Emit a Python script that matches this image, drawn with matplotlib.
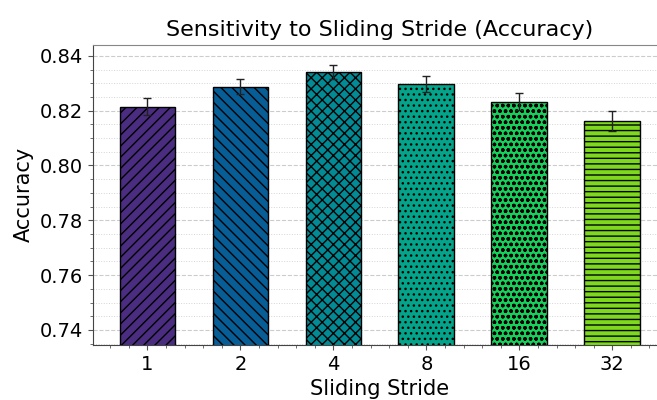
import numpy as np
import matplotlib
matplotlib.use("Agg")
from matplotlib import pyplot as plt
from matplotlib.ticker import MultipleLocator

strides = ["1", "2", "4", "8", "16", "32"]
acc = [0.8215, 0.8288, 0.8340, 0.8297, 0.8233, 0.8162]
err = [0.0032, 0.0029, 0.0025, 0.0029, 0.0031, 0.0035]
colors = ["#4a2d80", "#075d96", "#028a95", "#03a48a", "#17d05a", "#7dd81e"]
hatches = ["///", "\\\\\\", "xxx", "...", "ooo", "---"]

plt.rcParams["hatch.linewidth"] = 1.0

fig = plt.figure(figsize=(6.57, 4.0), dpi=100)
ax = fig.add_axes([0.141, 0.1375, 0.873, 0.751])

x = np.arange(len(strides))
bars = ax.bar(x, acc, width=0.6, yerr=err, color=colors, edgecolor="black",
              linewidth=1.0, capsize=2.8,
              error_kw=dict(ecolor="#222222", elinewidth=1.0, capthick=1.0))
for b, h in zip(bars, hatches):
    b.set_hatch(h)

ax.set_xticks(x)
ax.set_xticklabels(strides, fontsize=14)
ax.set_xlim(-0.59, 5.58)
ax.set_ylim(0.7345, 0.8441)
ax.yaxis.set_major_locator(MultipleLocator(0.02))
ax.yaxis.set_minor_locator(MultipleLocator(0.005))
ax.xaxis.set_minor_locator(MultipleLocator(0.2))
ax.tick_params(axis="y", labelsize=14)
ax.tick_params(which="minor", length=2, color="#555555")
ax.tick_params(which="major", length=3.5, color="#555555")

ax.grid(axis="y", which="major", linestyle="--", color="#cccccc", linewidth=0.8)
ax.grid(axis="y", which="minor", linestyle=":", color="#d5d5d5", linewidth=0.7)
ax.set_axisbelow(True)
for s in ax.spines.values():
    s.set_color("#888888")
ax.spines["left"].set_color("#444444")
ax.spines["bottom"].set_color("#444444")

ax.set_xlabel("Sliding Stride", fontsize=15)
ax.set_ylabel("Accuracy", fontsize=15)
ax.set_title("Sensitivity to Sliding Stride (Accuracy)", fontsize=16)

fig.savefig("out.png", dpi=100)
